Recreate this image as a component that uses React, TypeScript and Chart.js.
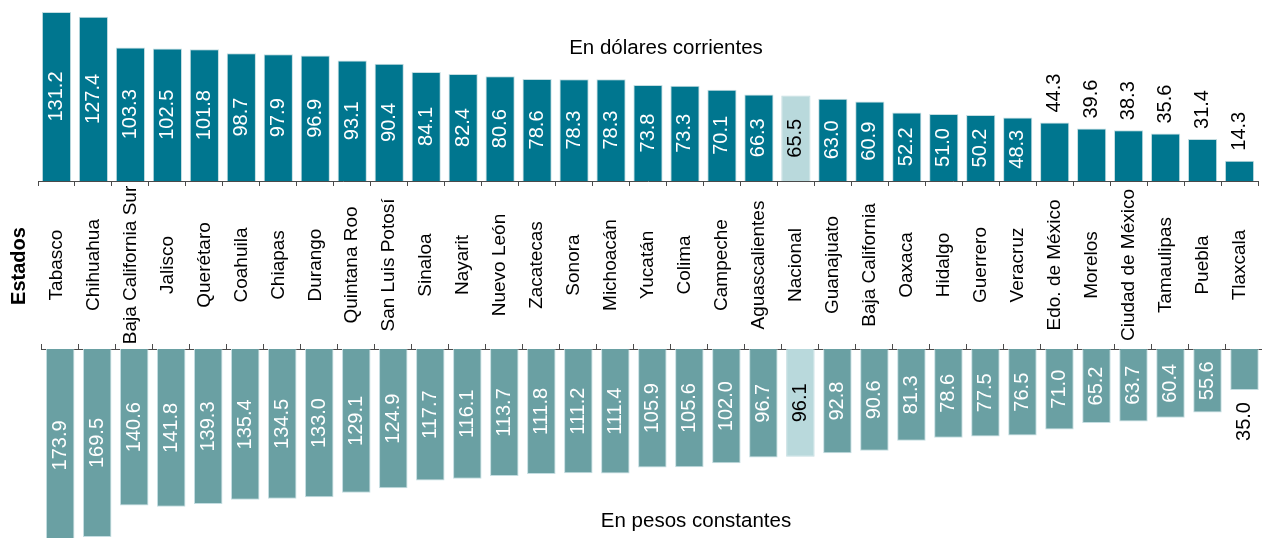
import React, { useEffect, useRef } from "react";
import { Chart, registerables } from "chart.js";

Chart.register(...registerables);

const categories: string[] = [
  "Tabasco", "Chihuahua", "Baja California Sur", "Jalisco", "Querétaro", "Coahuila",
  "Chiapas", "Durango", "Quintana Roo", "San Luis Potosí", "Sinaloa", "Nayarit",
  "Nuevo León", "Zacatecas", "Sonora", "Michoacán", "Yucatán", "Colima", "Campeche",
  "Aguascalientes", "Nacional", "Guanajuato", "Baja California", "Oaxaca", "Hidalgo",
  "Guerrero", "Veracruz", "Edo. de México", "Morelos", "Ciudad de México", "Tamaulipas",
  "Puebla", "Tlaxcala",
];

const dollarValues: number[] = [
  131.2, 127.4, 103.3, 102.5, 101.8, 98.7, 97.9, 96.9, 93.1, 90.4, 84.1, 82.4, 80.6,
  78.6, 78.3, 78.3, 73.8, 73.3, 70.1, 66.3, 65.5, 63.0, 60.9, 52.2, 51.0, 50.2, 48.3,
  44.3, 39.6, 38.3, 35.6, 31.4, 14.3,
];

const pesoValues: number[] = [
  173.9, 169.5, 140.6, 141.8, 139.3, 135.4, 134.5, 133.0, 129.1, 124.9, 117.7, 116.1,
  113.7, 111.8, 111.2, 111.4, 105.9, 105.6, 102.0, 96.7, 96.1, 92.8, 90.6, 81.3, 78.6,
  77.5, 76.5, 71.0, 65.2, 63.7, 60.4, 55.6, 35.0,
];

const highlightCategory = "Nacional";
const topTitle = "En dólares corrientes";
const bottomTitle = "En pesos constantes";
const axisTitle = "Estados";

const FONT = "'Liberation Sans', Arial, sans-serif";
const TOP_COLOR = "#00768f";
const BOTTOM_COLOR = "#6aa0a3";
const HIGHLIGHT_COLOR = "#b9d9dc";
const EDGE_COLOR = "#c4dde1";
const AXIS_COLOR = "#4a4a4a";

function drawRotated(ctx: CanvasRenderingContext2D, text: string, x: number, y: number, align: CanvasTextAlign) {
  ctx.save();
  ctx.translate(x, y);
  ctx.rotate(-Math.PI / 2);
  ctx.textAlign = align;
  ctx.textBaseline = "middle";
  ctx.fillText(text, 0, 0);
  ctx.restore();
}

function valueLabelPlugin(isTop: boolean) {
  return {
    id: "valueLabels" + (isTop ? "Top" : "Bottom"),
    afterDatasetsDraw(chart: any) {
      const ctx: CanvasRenderingContext2D = chart.ctx;
      const meta = chart.getDatasetMeta(0);
      const values = chart.data.datasets[0].data as number[];
      const area = chart.chartArea;
      ctx.save();
      ctx.font = `20px ${FONT}`;
      meta.data.forEach((el: any, i: number) => {
        const p = el.getProps(["x", "y", "base"], true);
        const text = values[i].toFixed(1);
        const tw = ctx.measureText(text).width;
        const barLen = Math.abs(p.base - p.y);
        const isHighlight = categories[i] === highlightCategory;
        if (barLen > tw + 20) {
          ctx.fillStyle = isHighlight ? "#000000" : "#ffffff";
          let cy = (p.y + p.base) / 2;
          if (!isTop) {
            const end = Math.min(p.y, area.bottom + 8);
            cy = (p.base + end) / 2;
          }
          drawRotated(ctx, text, p.x, cy, "center");
        } else {
          ctx.fillStyle = "#000000";
          if (isTop) {
            drawRotated(ctx, text, p.x, p.y - 10, "left");
          } else {
            drawRotated(ctx, text, p.x, p.y + 12, "right");
          }
        }
      });
      ctx.restore();
    },
  };
}

const topDecorPlugin = {
  id: "topDecor",
  afterDraw(chart: any) {
    const ctx: CanvasRenderingContext2D = chart.ctx;
    const xScale = chart.scales.x;
    ctx.save();
    ctx.fillStyle = "#000000";
    ctx.font = `19px ${FONT}`;
    categories.forEach((c, i) => {
      const x = xScale.getPixelForValue(i);
      drawRotated(ctx, c, x, 265, "center");
    });
    ctx.font = `bold 20px ${FONT}`;
    drawRotated(ctx, axisTitle, 19, 266, "center");
    ctx.font = `20.5px ${FONT}`;
    ctx.textAlign = "center";
    ctx.textBaseline = "middle";
    ctx.fillText(topTitle, 666, 48);
    ctx.restore();
  },
};

const bottomDecorPlugin = {
  id: "bottomDecor",
  afterDraw(chart: any) {
    const ctx: CanvasRenderingContext2D = chart.ctx;
    ctx.save();
    ctx.fillStyle = "#000000";
    ctx.font = `20.5px ${FONT}`;
    ctx.textAlign = "center";
    ctx.textBaseline = "middle";
    ctx.fillText(bottomTitle, 696, 181);
    ctx.restore();
  },
};

export default function App() {
  const topRef = useRef<HTMLCanvasElement | null>(null);
  const bottomRef = useRef<HTMLCanvasElement | null>(null);

  useEffect(() => {
    if (!topRef.current || !bottomRef.current) return;
    const topColors = categories.map((c) => (c === highlightCategory ? HIGHLIGHT_COLOR : TOP_COLOR));
    const bottomColors = categories.map((c) => (c === highlightCategory ? HIGHLIGHT_COLOR : BOTTOM_COLOR));

    const axisX = (position: "top" | "bottom") => ({
      type: "category" as const,
      position,
      offset: true,
      grid: {
        display: true,
        drawOnChartArea: false,
        drawTicks: true,
        tickLength: 5,
        offset: true,
        color: AXIS_COLOR,
        tickColor: AXIS_COLOR,
        lineWidth: 1,
      },
      border: { display: true, color: AXIS_COLOR, width: 1 },
      ticks: { display: false },
    });

    const topChart = new Chart(topRef.current, {
      type: "bar",
      data: {
        labels: categories,
        datasets: [
          {
            data: dollarValues,
            backgroundColor: topColors,
            borderColor: EDGE_COLOR,
            borderWidth: 1,
            barPercentage: 0.79,
            categoryPercentage: 1,
            base: -1.65,
          } as any,
        ],
      },
      options: {
        animation: false,
        responsive: false,
        maintainAspectRatio: false,
        layout: { padding: { left: 38, right: 4, top: 0, bottom: 164 } },
        plugins: { legend: { display: false }, tooltip: { enabled: false }, title: { display: false } },
        scales: {
          x: axisX("bottom") as any,
          y: { display: false, min: -1.65, max: 140.6 },
        },
      },
      plugins: [valueLabelPlugin(true), topDecorPlugin],
    });

    const bottomChart = new Chart(bottomRef.current, {
      type: "bar",
      data: {
        labels: categories,
        datasets: [
          {
            data: pesoValues,
            backgroundColor: bottomColors,
            borderColor: EDGE_COLOR,
            borderWidth: 1,
            barPercentage: 0.77,
            categoryPercentage: 1,
            base: -2.56,
          } as any,
        ],
      },
      options: {
        animation: false,
        responsive: false,
        maintainAspectRatio: false,
        layout: { padding: { left: 41.7, right: 1, top: 4, bottom: 0 } },
        plugins: { legend: { display: false }, tooltip: { enabled: false }, title: { display: false } },
        scales: {
          x: axisX("top") as any,
          y: { display: false, reverse: true, min: -2.56, max: 170.4 },
        },
      },
      plugins: [valueLabelPlugin(false), bottomDecorPlugin],
    });

    return () => {
      topChart.destroy();
      bottomChart.destroy();
    };
  }, []);

  return (
    <div
      style={{
        position: "absolute",
        left: 0,
        top: 0,
        width: 1262,
        height: 538,
        overflow: "hidden",
        background: "#ffffff",
      }}
    >
      <canvas
        ref={topRef}
        width={1262}
        height={350}
        style={{ position: "absolute", left: 0, top: 0, width: 1262, height: 350 }}
      />
      <canvas
        ref={bottomRef}
        width={1264}
        height={198}
        style={{ position: "absolute", left: 0, top: 340, width: 1264, height: 198 }}
      />
    </div>
  );
}
